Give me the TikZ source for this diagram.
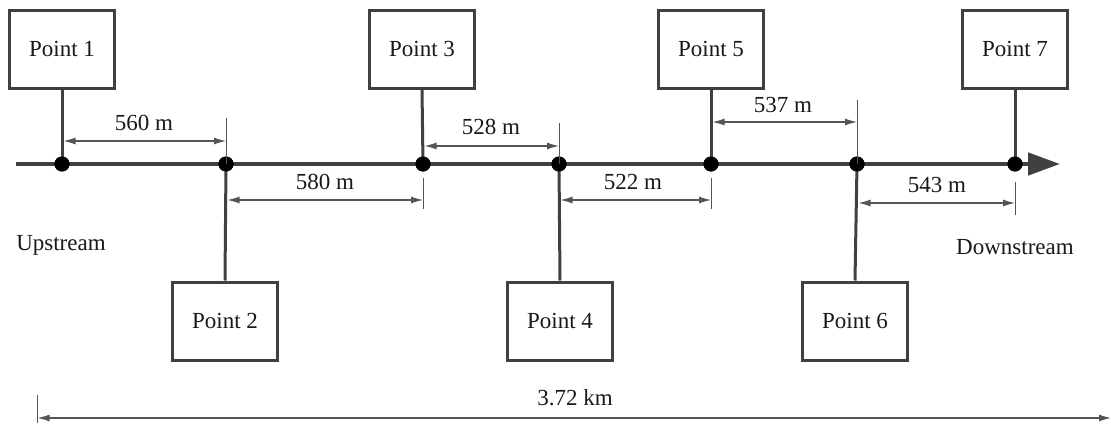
\documentclass[tikz,border=0pt]{standalone}
\usepackage{fontspec}
\setmainfont{Liberation Serif}
\usetikzlibrary{arrows.meta}
\definecolor{ln}{HTML}{404040}
\definecolor{dm}{HTML}{555555}
\begin{document}
\begin{tikzpicture}[x=1pt,y=-1pt,
  ptbox/.style={draw=ln,line width=3pt,fill=white,minimum width=105pt,minimum height=78pt,inner sep=0pt,font=\fontsize{23}{26}\selectfont,text=black!90},
  dot/.style={circle,fill=black,inner sep=0pt,minimum size=15pt},
  stem/.style={draw=ln,line width=3pt},
  dim/.style={draw=dm,line width=1.1pt,{Latex[length=12pt,width=7pt]}-{Latex[length=12pt,width=7pt]}},
  dimone/.style={draw=dm,line width=1.1pt,{Latex[length=12pt,width=7pt]}-},
  tick/.style={draw=dm,line width=1pt},
  lbl/.style={font=\fontsize{23}{26}\selectfont,text=black!90,inner sep=1pt},
]
\useasboundingbox (0,0) rectangle (1111,423);
% main line
\coordinate (ms) at (16,164);
\coordinate (me) at (1060,164);
\draw[ln,line width=4.5pt,-{Triangle[length=32pt,width=22pt]}] (ms) -- (me);
% dots
\node[dot] (d1) at (62,164) {};
\node[dot] (d2) at (226,164) {};
\node[dot] (d3) at (423,164) {};
\node[dot] (d4) at (559,164) {};
\node[dot] (d5) at (711,164) {};
\node[dot] (d6) at (857,164) {};
\node[dot] (d7) at (1015,164) {};
% boxes
\node[ptbox] (p1) at (62,49) {Point 1};
\node[ptbox] (p3) at (422,49) {Point 3};
\node[ptbox] (p5) at (711,49) {Point 5};
\node[ptbox] (p7) at (1015,49) {Point 7};
\node[ptbox] (p2) at (225,321) {Point 2};
\node[ptbox] (p4) at (560,321) {Point 4};
\node[ptbox] (p6) at (855,321) {Point 6};
% stems
\draw[stem] (p1.south) -- (d1.center);
\draw[stem] (p3.south) -- (d3.center);
\draw[stem] (p5.south) -- (d5.center);
\draw[stem] (p7.south) -- (d7.center);
\draw[stem] (d2.center) -- (p2.north);
\draw[stem] (d4.center) -- (p4.north);
\draw[stem] (d6.center) -- (p6.north);
% redraw dots on top
\foreach \n in {d1,d2,d3,d4,d5,d6,d7} \fill[black] (\n) circle (7.5pt);
% dimension ticks
\coordinate (t2a) at (226,118); \draw[tick] (t2a) -- (d2.center);
\coordinate (t3a) at (423,178); \coordinate (t3b) at (423,209); \draw[tick] (t3a) -- (t3b);
\coordinate (t4a) at (559,123); \draw[tick] (t4a) -- (d4.center);
\coordinate (t5a) at (711,178); \coordinate (t5b) at (711,209); \draw[tick] (t5a) -- (t5b);
\coordinate (t6a) at (857,100); \draw[tick] (t6a) -- (d6.center);
\coordinate (t7a) at (1015,182); \coordinate (t7b) at (1015,215); \draw[tick] (t7a) -- (t7b);
\coordinate (t0a) at (37,395); \coordinate (t0b) at (37,423); \draw[tick] (t0a) -- (t0b);
% dimension lines
\coordinate (a1) at (63.5,141); \coordinate (b1) at (226,141);
\draw[dim] (a1) -- (b1);
\coordinate (a2) at (227.5,200); \coordinate (b2) at (423,200);
\draw[dim] (a2) -- (b2);
\coordinate (a3) at (424.5,146); \coordinate (b3) at (559,146);
\draw[dim] (a3) -- (b3);
\coordinate (a4) at (560.5,200); \coordinate (b4) at (711,200);
\draw[dim] (a4) -- (b4);
\coordinate (a5) at (712.5,122); \coordinate (b5) at (857,122);
\draw[dim] (a5) -- (b5);
\coordinate (a6) at (858.5,203); \coordinate (b6) at (1015,203);
\draw[dim] (a6) -- (b6);
\coordinate (a7) at (37.5,418); \coordinate (b7) at (1111,418);
\draw[dim] (a7) -- (b7);
% labels
\node[lbl] (l1) at (144,123) {560 m};
\node[lbl] (l2) at (325,182) {580 m};
\node[lbl] (l3) at (491,127) {528 m};
\node[lbl,fill=white] (l4) at (633,182) {522 m};
\node[lbl] (l5) at (783,105) {537 m};
\node[lbl] (l6) at (937,185) {543 m};
\node[lbl] (l7) at (575,398) {3.72 km};
\node[lbl] (up) at (61,245) {Upstream};
\node[lbl] (down) at (1015,247) {Downstream};
\end{tikzpicture}
\end{document}
